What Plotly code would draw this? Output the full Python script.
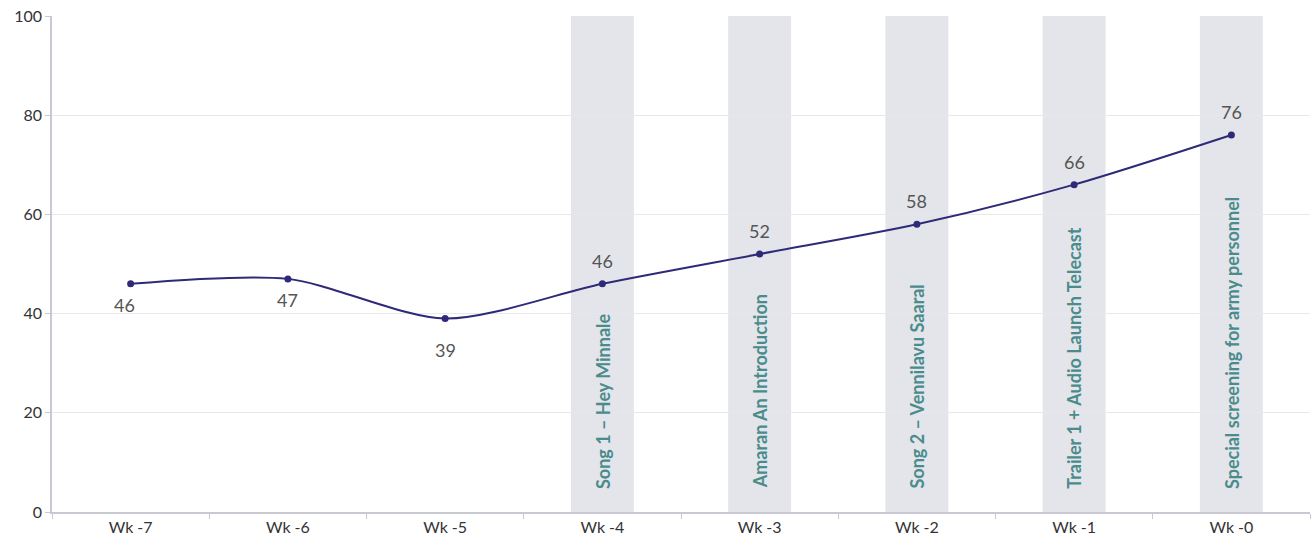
import plotly.graph_objects as go

weeks = ["Wk -7", "Wk -6", "Wk -5", "Wk -4", "Wk -3", "Wk -2", "Wk -1", "Wk -0"]
values = [46, 47, 39, 46, 52, 58, 66, 76]
events = {
    "Wk -4": "Song 1 – Hey Minnale",
    "Wk -3": "Amaran An Introduction",
    "Wk -2": "Song 2 – Vennilavu Saaral",
    "Wk -1": "Trailer 1 + Audio Launch Telecast",
    "Wk -0": "Special screening for army personnel",
}

# label placement (style): vertical pixel offset of each value label
label_yshift = [-21, -21, -31, 23, 23, 23, 23, 23]
label_xshift = [-6, 0, 0, 0, 0, 0, 0, 0]

FONT = "Lato, Open Sans, sans-serif"

fig = go.Figure()
fig.add_trace(go.Scatter(
    x=weeks, y=values, mode="lines+markers",
    line=dict(color="#2e2a78", width=2, shape="spline", smoothing=0.8),
    marker=dict(color="#2e2a78", size=7),
    cliponaxis=False, showlegend=False,
))

shapes = []
annotations = []
for wk, v, dy, dx in zip(weeks, values, label_yshift, label_xshift):
    annotations.append(dict(x=wk, y=v, xref="x", yref="y", text=str(v), showarrow=False,
                            yshift=dy, xshift=dx,
                            font=dict(family=FONT, size=18, color="#555555")))
for wk, label in events.items():
    i = weeks.index(wk)
    shapes.append(dict(type="rect", xref="x", yref="paper", x0=i - 0.2, x1=i + 0.2,
                       y0=0, y1=1, fillcolor="#e3e5ea", line=dict(width=0), layer="below"))
    annotations.append(dict(x=wk, y=4.3, xref="x", yref="y", text=label, textangle=-90,
                            showarrow=False, yanchor="bottom", xanchor="center",
                            font=dict(family=FONT, size=18,
                                      color="#4a8c8c", weight="bold")))

fig.update_layout(
    width=1313, height=549,
    margin=dict(l=52, r=3, t=16, b=37),
    paper_bgcolor="white", plot_bgcolor="white",
    shapes=shapes, annotations=annotations,
    xaxis=dict(type="category", range=[-0.5, 7.5], showgrid=False,
               showline=True, linecolor="#c8c9d2", linewidth=1.5,
               ticks="outside", tickson="boundaries", ticklen=5, tickcolor="#c8c9d2",
               tickfont=dict(family=FONT, size=16, color="#333333")),
    yaxis=dict(range=[0, 100], dtick=20, showgrid=True, gridcolor="#e8e8ea",
               showline=True, linecolor="#c8c9d2", linewidth=1.5,
               ticks="outside", ticklen=5, tickcolor="#c8c9d2", zeroline=False,
               tickfont=dict(family=FONT, size=16, color="#333333")),
)

fig.write_html("out.html")
